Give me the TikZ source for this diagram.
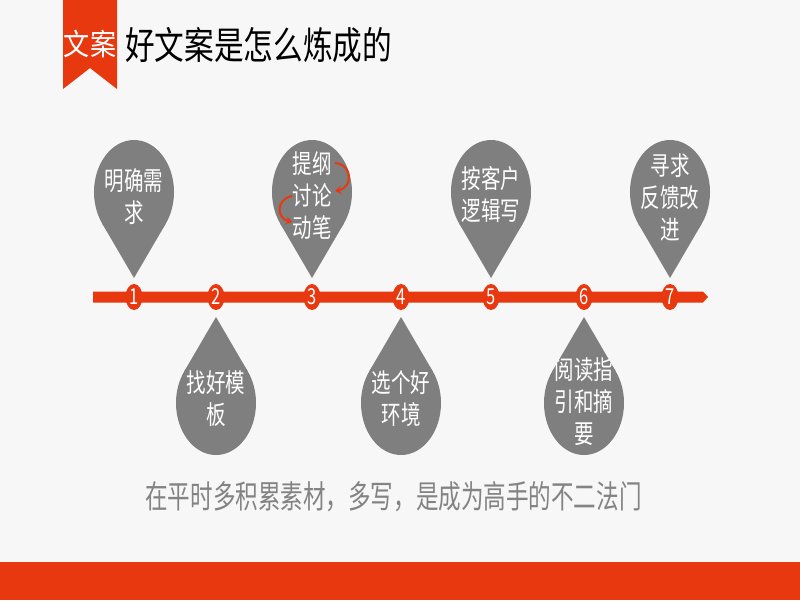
\documentclass[tikz,border=0pt]{standalone}
\usepackage{fontspec}
\usepackage{graphicx}
\newfontfamily\cjk{Noto Sans CJK SC}
\usetikzlibrary{shapes.geometric,arrows.meta}
\definecolor{bgc}{HTML}{F7F7F7}
\definecolor{redc}{HTML}{E8380F}
\definecolor{dropc}{HTML}{7F7F7F}
\definecolor{txtgray}{HTML}{838383}
\newcommand\sqz[2]{\scalebox{#1}[1]{#2}}
\newcommand\lines[1]{\sqz{0.75}{\begin{tabular}{@{}c@{}}#1\end{tabular}}}
\newcommand\updrop[1]{%
  \fill[dropc] (#1,192) ellipse (40pt and 52pt);
  \fill[dropc] (#1-31.9,223.4) -- (#1,278) -- (#1+31.9,223.4) -- cycle;}
\newcommand\downdrop[1]{%
  \fill[dropc] (#1,403) ellipse (40pt and 52pt);
  \fill[dropc] (#1-31.9,371.6) -- (#1,317) -- (#1+31.9,371.6) -- cycle;}
\begin{document}
\begin{tikzpicture}[x=1pt,y=-1pt,
  numc/.style={ellipse,fill=redc,minimum width=17pt,minimum height=26pt,inner sep=0pt,text=white,font=\cjk\fontsize{22}{22}\selectfont},
  droptext/.style={text=white,inner sep=0pt,font=\cjk\fontsize{26}{32}\selectfont},
  curlarrow/.style={draw=redc,line width=2pt,-{Stealth[length=6pt,width=8pt]}}]
\useasboundingbox (0,0) rectangle (800,600);
\fill[bgc] (0,0) rectangle (800,600);
% ribbon
\fill[redc] (63,0) -- (117,0) -- (117,89) -- (90,68) -- (63,89) -- cycle;
\node[text=white,font=\cjk\fontsize{30}{30}\selectfont,inner sep=0pt] (tag) at (90,44) {\sqz{0.87}{文案}};
\node[anchor=west,font=\cjk\fontsize{38}{38}\selectfont,inner sep=0pt] (title) at (125,45) {\sqz{0.78}{好文案是怎么炼成的}};
% timeline
\fill[redc] (93,291.5) -- (703,291.5) -- (708,297) -- (703,302.5) -- (93,302.5) -- cycle;
% drops
\updrop{134}
\updrop{312}
\updrop{491}
\updrop{670}
\downdrop{216}
\downdrop{401}
\downdrop{584}
% numbers
\node[numc] (n1) at (134,297) {\sqz{0.75}{1}};
\node[numc] (n2) at (216,297) {\sqz{0.75}{2}};
\node[numc] (n3) at (312,297) {\sqz{0.75}{3}};
\node[numc] (n4) at (401,297) {\sqz{0.75}{4}};
\node[numc] (n5) at (491,297) {\sqz{0.75}{5}};
\node[numc] (n6) at (584,297) {\sqz{0.75}{6}};
\node[numc] (n7) at (670,297) {\sqz{0.75}{7}};
% texts
\node[droptext] (t1) at (134,200) {\lines{明确需\\求}};
\node[droptext] (t3) at (312,199) {\lines{提纲\\讨论\\动笔}};
\node[droptext] (t5) at (491,198) {\lines{按客户\\逻辑写}};
\node[droptext] (t7) at (670,201) {\lines{寻求\\反馈改\\进}};
\node[droptext] (t2) at (216,402) {\lines{找好模\\板}};
\node[droptext] (t4) at (401,402) {\lines{选个好\\环境}};
\node[droptext] (t6) at (584,405) {\lines{阅读指\\引和摘\\要}};
% curl arrows in drop 3
\coordinate (a1s) at (335,163);
\coordinate (a1e) at (335,191);
\coordinate (a2s) at (292,196);
\coordinate (a2e) at (292,222);
\draw[curlarrow] (a1s) .. controls (354,165) and (352,188) .. (a1e);
\draw[curlarrow] (a2s) .. controls (276,199) and (276,218) .. (a2e);
% motto
\node[text=txtgray,font=\cjk\fontsize{32}{32}\selectfont,inner sep=0pt] (motto) at (393.5,497) {\sqz{0.705}{在平时多积累素材，多写，是成为高手的不二法门}};
% bottom bar
\fill[redc] (0,562) rectangle (800,600);
\end{tikzpicture}
\end{document}
